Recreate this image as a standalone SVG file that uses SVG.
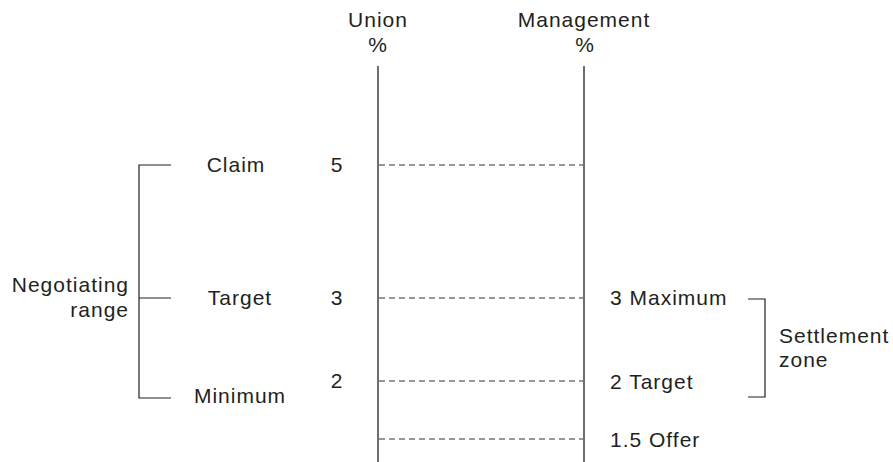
<svg xmlns="http://www.w3.org/2000/svg" width="893" height="462" viewBox="0 0 893 462">
<style>
text{font-family:"Liberation Sans",Arial,sans-serif;font-size:21px;letter-spacing:1px;fill:#231f20}
.m{text-anchor:middle}.e{text-anchor:end}
.ax{stroke:#231f20;stroke-width:1.3;fill:none}
.d{stroke:#333;stroke-width:1;stroke-dasharray:6,4;fill:none}
.b{stroke:#231f20;stroke-width:1.2;fill:none}
</style>
<rect width="893" height="462" fill="#fff"/>
<g id="axes">
<g id="union"><text class="m" x="378" y="27">Union</text><text class="m" x="378" y="52">%</text><line class="ax" x1="378" y1="66" x2="378" y2="462"/></g>
<g id="management"><text class="m" x="584" y="27">Management</text><text class="m" x="585" y="52">%</text><line class="ax" x1="584" y1="66" x2="584" y2="462"/></g>
</g>
<g id="connectors">
<line class="d" x1="379" y1="165" x2="583" y2="165"/>
<line class="d" x1="379" y1="298" x2="583" y2="298"/>
<line class="d" x1="379" y1="381" x2="583" y2="381"/>
<line class="d" x1="379" y1="439" x2="583" y2="439"/>
</g>
<g id="negotiating-range">
<path class="b" d="M171 165H139V398H171M139 298H171"/>
<text class="e" x="129" y="292">Negotiating</text><text class="e" x="129" y="317">range</text>
</g>
<g id="union-levels">
<text class="m" x="236" y="172">Claim</text><text class="m" x="337" y="172">5</text>
<text class="m" x="240" y="305">Target</text><text class="m" x="337" y="305">3</text>
<text class="m" x="240" y="403">Minimum</text><text class="m" x="337" y="388">2</text>
</g>
<g id="management-levels">
<text x="610" y="305">3 Maximum</text>
<text x="610" y="389">2 Target</text>
<text x="610" y="447">1.5 Offer</text>
</g>
<g id="settlement-zone">
<path class="b" d="M748 299H765V397H748"/>
<text x="779" y="343">Settlement</text><text x="779" y="367">zone</text>
</g>
</svg>
